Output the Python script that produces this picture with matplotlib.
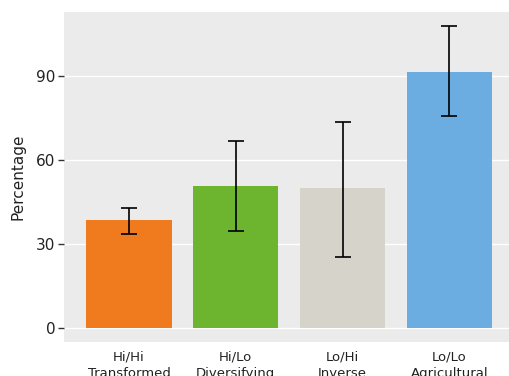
import numpy as np
import matplotlib
matplotlib.use("Agg")
import matplotlib.pyplot as plt

# group means and error bounds (percent)
groups = ["Hi/Hi\nTransformed", "Hi/Lo\nDiversifying", "Lo/Hi\nInverse", "Lo/Lo\nAgricultural"]
pct = [38.6, 50.7, 50.0, 91.4]
err_lo = [33.6, 34.6, 25.4, 75.7]
err_hi = [42.9, 66.8, 73.6, 107.9]
colors = ["#F07B1E", "#6DB52F", "#D6D3CB", "#6BADE0"]

fig = plt.figure(figsize=(5.1, 3.76), dpi=100)
ax = fig.add_axes([0.1255, 0.0904, 0.883, 0.8776])
ax.set_facecolor("#EBEBEB")

x = np.arange(len(groups))
ax.bar(x, pct, width=0.8, color=colors, zorder=2)
yerr = [np.array(pct) - np.array(err_lo), np.array(err_hi) - np.array(pct)]
ax.errorbar(x, pct, yerr=yerr, fmt="none", ecolor="black", elinewidth=1.2,
            capsize=5.8, capthick=1.2, zorder=3)

ax.set_ylim(-5, 112.9)
ax.set_xlim(-0.61, 3.61)
ax.set_yticks([0, 30, 60, 90])
ax.yaxis.grid(True, color="white", linewidth=1)
ax.set_axisbelow(True)
for s in ax.spines.values():
    s.set_visible(False)

ax.set_xticks(x)
ax.set_xticklabels(groups, fontsize=9.5, color="#222222", linespacing=1.35)
ax.tick_params(axis="x", length=0, pad=6)
ax.tick_params(axis="y", length=4, width=1, labelsize=11, color="#333333", labelcolor="#222222", pad=2)
ax.set_ylabel("Percentage", fontsize=11, color="#222222", labelpad=8)

fig.savefig("out.png", dpi=100)
